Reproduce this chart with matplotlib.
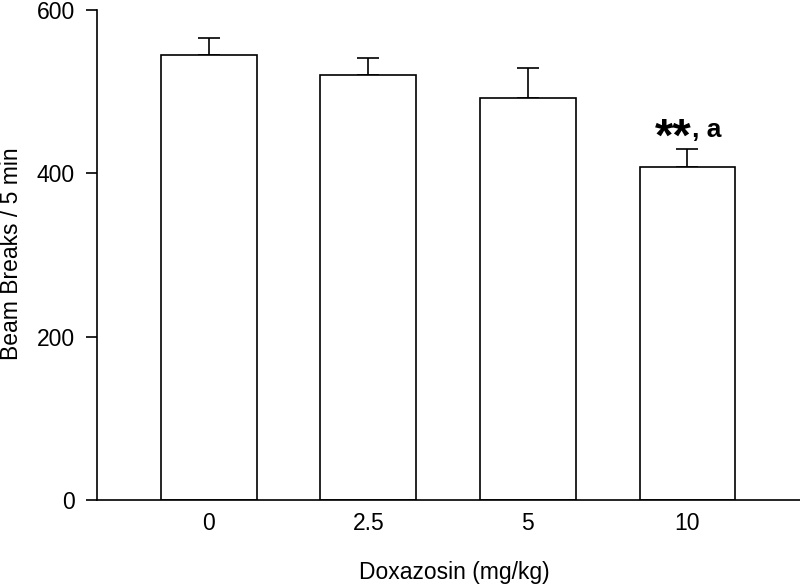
import numpy as np
import matplotlib.pyplot as plt

plt.rcParams['font.family'] = ['Liberation Sans', 'DejaVu Sans']

doses = ['0', '2.5', '5', '10']
means = [545, 520, 492, 407]
sems = [20, 21, 37, 23]
stars = '**'
letter = ', a'

fig = plt.figure(figsize=(8, 5.86), dpi=100)
ax = fig.add_axes([0.12125, 0.1468, 0.87875, 0.8366])

x = np.arange(len(doses))
ax.bar(x, means, width=0.6, color='white', edgecolor='black', linewidth=1.2, zorder=2)
ax.errorbar(x, means, yerr=[np.zeros(len(sems)), sems], fmt='none',
            ecolor='black', elinewidth=1.2, capsize=7.8, capthick=1.2, zorder=1)

# significance mark above the 10 mg/kg bar
top = (x[3], means[3] + sems[3])
ax.annotate(stars, xy=top, xytext=(3.0, -1.5), textcoords='offset points',
            ha='right', va='baseline', fontsize=34, fontweight='bold')
ax.annotate(letter, xy=top, xytext=(3.0, 8.4), textcoords='offset points',
            ha='left', va='baseline', fontsize=19, fontweight='bold')

ax.set_xlim(-0.7, 3.705)
ax.set_ylim(0, 600)
ax.set_yticks([0, 200, 400, 600])
ax.set_xticks(x)
ax.set_xticklabels(doses)
ax.tick_params(axis='x', length=0, pad=9, labelsize=16.5)
ax.tick_params(axis='y', length=8, width=1.2, direction='out', pad=8, labelsize=16.5)
for s in ['top', 'right']:
    ax.spines[s].set_visible(False)
for s in ['left', 'bottom']:
    ax.spines[s].set_linewidth(1.2)

fig.text(12 / 800, 1 - 254 / 586, 'Beam Breaks / 5 min', rotation=90,
         ha='center', va='center', fontsize=16.5)
fig.text(454 / 800, 1 - 573 / 586, 'Doxazosin (mg/kg)', ha='center', va='center', fontsize=16.5)

fig.savefig('out.png', dpi=100)
